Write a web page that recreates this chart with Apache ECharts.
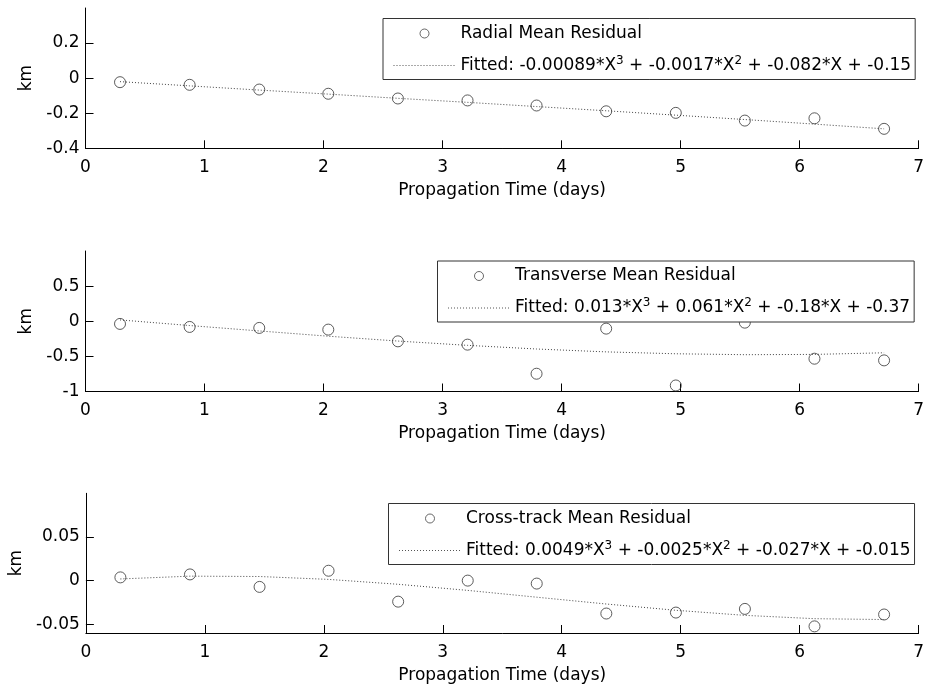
<!DOCTYPE html>
<html><head><meta charset="utf-8">
<script src="https://cdn.jsdelivr.net/npm/echarts@6/dist/echarts.min.js"></script>
<style>html,body{margin:0;padding:0;background:#fff}#c{width:927px;height:689px}</style>
</head><body><div id="c"></div>
<script>
const days = [0.29, 0.875, 1.46, 2.04, 2.625, 3.21, 3.79, 4.375, 4.96, 5.54, 6.125, 6.71];
const radialResidual = [-0.023, -0.038, -0.065, -0.089, -0.116, -0.127, -0.156, -0.189, -0.198, -0.242, -0.229, -0.289];
const radialFit = [-0.020, -0.044, -0.068, -0.091, -0.115, -0.138, -0.162, -0.186, -0.211, -0.236, -0.262, -0.289];
const transverseResidual = [-0.038, -0.081, -0.095, -0.119, -0.286, -0.333, -0.747, -0.105, -0.914, -0.02, -0.533, -0.557];
const transverseFit = [0.019, -0.061, -0.138, -0.213, -0.282, -0.343, -0.395, -0.436, -0.463, -0.476, -0.472, -0.449];
const crossResidual = [0.0037, 0.0071, -0.0072, 0.0113, -0.0241, 0.0000, -0.0034, -0.0377, -0.0366, -0.0324, -0.0524, -0.0388];
const crossFit = [0.0019, 0.0051, 0.0047, 0.0014, -0.0042, -0.0112, -0.0190, -0.0268, -0.0340, -0.0398, -0.0436, -0.0446];
const xTicks = [0, 1, 2, 3, 4, 5, 6, 7];
const radialTicks = [-0.4, -0.2, 0, 0.2];
const transverseTicks = [-1, -0.5, 0, 0.5];
const crossTicks = [-0.05, 0, 0.05];
const residualNames = ['Radial Mean Residual', 'Transverse Mean Residual', 'Cross-track Mean Residual'];
const fitNames = [
  'Fitted: -0.00089*X^3 + -0.0017*X^2 + -0.082*X + -0.15',
  'Fitted: 0.013*X^3 + 0.061*X^2 + -0.18*X + -0.37',
  'Fitted: 0.0049*X^3 + -0.0025*X^2 + -0.027*X + -0.015'
];
const xTitle = 'Propagation Time (days)';
const yTitle = 'km';

const FONT = 'DejaVu Sans';
const panels = [
  {res: radialResidual, fit: radialFit, ticks: radialTicks, min: -0.4, max: 0.4, top: 8, height: 140.3, legLeft: 383, legTop: 18.5},
  {res: transverseResidual, fit: transverseFit, ticks: transverseTicks, min: -1, max: 1, top: 251, height: 140.5, legLeft: 437.5, legTop: 261},
  {res: crossResidual, fit: crossFit, ticks: crossTicks, min: -0.06, max: 0.1, top: 493.3, height: 139.7, legLeft: 388.5, legTop: 503.5}
];

const grid = [], xAxis = [], yAxis = [], series = [], legend = [];
panels.forEach((p, i) => {
  grid.push({left: 85.5, right: 7, top: p.top, height: p.height, containLabel: false});
  xAxis.push({
    type: 'value', gridIndex: i, min: 0, max: 7, interval: 1,
    name: xTitle, nameLocation: 'middle', nameGap: 34,
    nameTextStyle: {fontFamily: FONT, fontSize: 17, color: '#000'},
    axisLine: {onZero: false, lineStyle: {color: '#000', width: 1}},
    axisTick: {inside: true, length: 8, lineStyle: {color: '#000'}, customValues: xTicks},
    axisLabel: {fontFamily: FONT, fontSize: 17, color: '#000', margin: 11, customValues: xTicks},
    splitLine: {show: false}
  });
  yAxis.push({
    type: 'value', gridIndex: i, min: p.min, max: p.max,
    name: yTitle, nameLocation: 'middle', nameGap: 44,
    nameTextStyle: {fontFamily: FONT, fontSize: 17, color: '#000'},
    axisLine: {show: true, onZero: false, lineStyle: {color: '#000', width: 1}},
    axisTick: {show: true, inside: true, length: 8, lineStyle: {color: '#000'}, customValues: p.ticks},
    axisLabel: {fontFamily: FONT, fontSize: 17, color: '#000', margin: 6, customValues: p.ticks},
    splitLine: {show: false}
  });
  series.push({
    type: 'scatter', name: residualNames[i], xAxisIndex: i, yAxisIndex: i,
    data: days.map((d, k) => [d, p.res[k]]),
    symbol: 'circle', symbolSize: 11,
    itemStyle: {color: 'transparent', borderColor: '#333', borderWidth: 1},
    z: 3
  });
  series.push({
    type: 'line', name: fitNames[i], xAxisIndex: i, yAxisIndex: i,
    data: days.map((d, k) => [d, p.fit[k]]),
    symbol: 'none', showSymbol: false,
    itemStyle: {color: 'transparent'},
    lineStyle: {color: '#444', width: 1, type: [1, 2]},
    z: 2
  });
  legend.push({
    orient: 'vertical', left: p.legLeft, top: p.legTop,
    padding: [4, 4, 3, 10], itemGap: 10, itemWidth: 62, itemHeight: 9,
    backgroundColor: '#fff', borderColor: '#333', borderWidth: 1,
    selectedMode: false,
    data: [
      {name: residualNames[i], icon: 'circle', itemStyle: {color: 'transparent', borderColor: '#444', borderWidth: 1}},
      {name: fitNames[i], itemStyle: {color: 'transparent', borderWidth: 0, opacity: 0}, lineStyle: {color: '#555', width: 1, type: [1, 2]}}
    ],
    formatter: name => name.replace(/\^(\d)/g, '{sup|$1}'),
    textStyle: {
      fontFamily: FONT, fontSize: 17, color: '#000', lineHeight: 22,
      rich: {sup: {fontFamily: FONT, fontSize: 12, lineHeight: 12, verticalAlign: 'top', color: '#000'}}
    },
    z: 10
  });
});

const chart = echarts.init(document.getElementById('c'), null, {renderer: 'canvas'});
chart.setOption({animation: false, backgroundColor: '#fff', grid, xAxis, yAxis, series, legend});
</script>
</body></html>
